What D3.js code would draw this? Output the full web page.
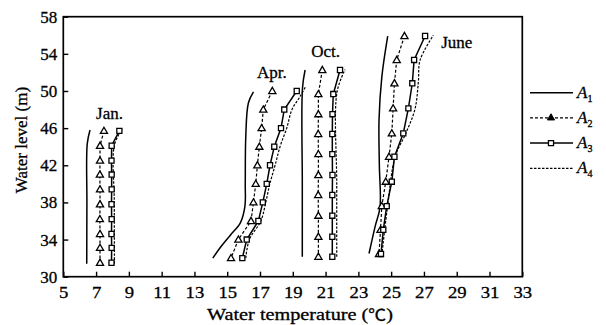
<!DOCTYPE html>
<html>
<head>
<meta charset="utf-8">
<script src="https://cdn.jsdelivr.net/npm/d3@7"></script>
<style>
  body { margin: 0; background: #fff; }
  svg { display: block; }
  svg text { stroke: #000; stroke-width: 0.3px; }
</style>
</head>
<body>
<svg id="chart" width="606" height="325"></svg>
<script>
const xTicks = [5, 7, 9, 11, 13, 15, 17, 19, 21, 23, 25, 27, 29, 31, 33]
const yTicks = [30, 34, 38, 42, 46, 50, 54, 58]

// months: measurement levels (m) and temperatures (°C) for the marked series
const janLevels = [45.7, 44.1, 42.5, 41.0, 39.4, 37.8, 36.2, 34.6, 33.1, 31.5]
const janA2 = [7.48, 7.24, 7.24, 7.23, 7.24, 7.24, 7.23, 7.24, 7.24, 7.24]
const janA3 = [8.42, 7.95, 7.94, 7.95, 7.95, 7.94, 7.95, 7.94, 7.95, 7.94]
const janA1 = [[6.43, 31.4], [6.44, 38.0], [6.46, 44.3], [6.63, 45.8]]
const janA4 = [[8.12, 31.4], [8.11, 38.0], [8.12, 44.2], [8.6, 45.9]]

const aprLevels = [50, 48, 46, 44, 42, 40, 38, 36, 34, 32]
const aprA2 = [17.75, 17.2, 17.1, 16.96, 16.84, 16.74, 16.6, 16.45, 15.68, 15.23]
const aprA3 = [19.24, 18.48, 18.28, 17.87, 17.61, 17.41, 17.17, 16.9, 16.19, 15.92]
const aprA1 = [[14.12, 32.0], [14.6, 33.2], [15.2, 34.5], [15.8, 35.8], [16.08, 37.6], [16.1, 40.0], [16.13, 45.0], [16.29, 48.7], [16.6, 49.9]]
const aprA4 = [[16.13, 32.0], [16.35, 34.0], [17.05, 36.0], [17.35, 38.0], [17.6, 40.0], [17.92, 42.0], [18.22, 44.0], [18.63, 46.0], [18.95, 48.0], [19.44, 49.4], [19.79, 50.5]]

const octLevels = [52.26, 49.67, 47.5, 45.37, 43.2, 40.95, 38.8, 36.57, 34.3, 32.15]
const octA2 = [20.8, 20.56, 20.56, 20.55, 20.56, 20.56, 20.55, 20.56, 20.56, 20.56]
const octA3 = [21.88, 21.47, 21.42, 21.41, 21.41, 21.42, 21.41, 21.41, 21.41, 21.41]
const octA1 = [[19.58, 32.15], [19.58, 40.0], [19.59, 50.3], [19.75, 52.26]]
const octA4 = [[21.68, 32.15], [21.68, 40.0], [21.7, 49.9], [22.19, 52.3]]

const junLevels = [55.92, 53.34, 50.83, 48.13, 45.44, 42.92, 40.23, 37.6, 35.05, 32.45]
const junA2 = [25.81, 25.34, 25.2, 25.12, 25.04, 24.87, 24.67, 24.43, 24.35, 24.26]
const junA3 = [27.07, 26.4, 26.29, 26.05, 25.74, 25.2, 25.04, 24.73, 24.52, 24.38]
const junA1 = [[23.65, 32.5], [24.02, 35.4], [24.32, 37.5], [24.28, 42.0], [24.26, 46.9], [24.43, 51.5], [24.79, 55.9]]
const junA4 = [[24.43, 32.3], [24.79, 37.7], [25.24, 42.9], [25.91, 45.5], [26.46, 48.1], [26.66, 51.0], [26.76, 53.3], [27.57, 56.0]]

const monthLabels = [
  { text: 'Jan.', t: 7.82, l: 47.0 },
  { text: 'Apr.', t: 17.73, l: 51.4 },
  { text: 'Oct.', t: 21.0, l: 53.7 },
  { text: 'June', t: 29.0, l: 54.6 }
]

const font = '"Liberation Serif", "Times New Roman", serif'
const svg = d3.select('#chart')

const x = d3.scaleLinear().domain([5, 33]).range([63.3, 522.3])
const y = d3.scaleLinear().domain([30, 58]).range([276.7, 16.7])

// frame
svg.append('rect')
  .attr('x', x(5)).attr('y', y(58))
  .attr('width', x(33) - x(5)).attr('height', y(30) - y(58))
  .attr('fill', 'none').attr('stroke', '#000').attr('stroke-width', 1.7)

// axes, ticks point inward
const xAxis = svg.append('g').attr('transform', `translate(0,${y(30)})`)
  .call(d3.axisBottom(x).tickValues(xTicks).tickSizeInner(-5).tickSizeOuter(0).tickPadding(9))
const yAxis = svg.append('g').attr('transform', `translate(${x(5)},0)`)
  .call(d3.axisLeft(y).tickValues(yTicks).tickSizeInner(-5).tickSizeOuter(0).tickPadding(6))
;[xAxis, yAxis].forEach(ax => {
  ax.select('.domain').remove()
  ax.selectAll('line').attr('stroke', '#000').attr('stroke-width', 1.4)
  ax.selectAll('text').attr('fill', '#000').attr('font-size', 17).attr('font-family', font)
})
xAxis.selectAll('text').attr('transform', 'scale(1.1,1)')

const xTitle = svg.append('text')
  .attr('x', 300).attr('y', 320).attr('text-anchor', 'middle')
  .attr('font-size', 17).attr('font-family', font).attr('fill', '#000')
  .attr('textLength', 186).attr('lengthAdjust', 'spacingAndGlyphs')
xTitle.append('tspan').text('Water temperature (')
xTitle.append('tspan').attr('font-family', '"Noto Sans CJK SC", sans-serif').attr('font-size', 15).text('℃')
xTitle.append('tspan').text(')')

svg.append('text')
  .attr('transform', 'translate(27,140) rotate(-90)').attr('text-anchor', 'middle')
  .attr('font-size', 17).attr('font-family', font).attr('fill', '#000')
  .text('Water level (m)')

const line = d3.line().x(d => x(d[0])).y(d => y(d[1])).curve(d3.curveCatmullRom.alpha(0.5))
const polyline = d3.line().x(d => x(d[0])).y(d => y(d[1]))

const triangle = d3.symbol(d3.symbolTriangle, 22)
const square = d3.symbol(d3.symbolSquare, 26)

const months = [
  { levels: janLevels, a1: janA1, a2: janA2, a3: janA3, a4: janA4 },
  { levels: aprLevels, a1: aprA1, a2: aprA2, a3: aprA3, a4: aprA4 },
  { levels: octLevels, a1: octA1, a2: octA2, a3: octA3, a4: octA4 },
  { levels: junLevels, a1: junA1, a2: junA2, a3: junA3, a4: junA4 }
]

const plot = svg.append('g')
months.forEach(m => {
  const a2pts = m.levels.map((l, i) => [m.a2[i], l])
  const a3pts = m.levels.map((l, i) => [m.a3[i], l])

  plot.append('path').attr('d', line(m.a1))
    .attr('fill', 'none').attr('stroke', '#000').attr('stroke-width', 1.5)
  plot.append('path').attr('d', line(m.a4))
    .attr('fill', 'none').attr('stroke', '#000').attr('stroke-width', 1.2)
    .attr('stroke-dasharray', '2.5,1.5')
  plot.append('path').attr('d', polyline(a2pts))
    .attr('fill', 'none').attr('stroke', '#000').attr('stroke-width', 1.2)
    .attr('stroke-dasharray', '3,2')
  plot.append('path').attr('d', polyline(a3pts))
    .attr('fill', 'none').attr('stroke', '#000').attr('stroke-width', 1.5)

  plot.selectAll(null).data(a2pts).join('path')
    .attr('transform', d => `translate(${x(d[0])},${y(d[1]) + 0.5})`)
    .attr('d', triangle)
    .attr('fill', '#fff').attr('stroke', '#000').attr('stroke-width', 1.3)
  plot.selectAll(null).data(a3pts).join('path')
    .attr('transform', d => `translate(${x(d[0])},${y(d[1])})`)
    .attr('d', square)
    .attr('fill', '#fff').attr('stroke', '#000').attr('stroke-width', 1.3)
})

svg.append('g').selectAll('text').data(monthLabels).join('text')
  .attr('x', d => x(d.t)).attr('y', d => y(d.l))
  .attr('text-anchor', 'middle')
  .attr('font-size', 17).attr('font-family', font).attr('fill', '#000')
  .text(d => d.text)

// legend
const legendItems = [
  { key: '1', dash: null, marker: null },
  { key: '2', dash: '3,2', marker: 'tri' },
  { key: '3', dash: null, marker: 'sq' },
  { key: '4', dash: '2.5,1.5', marker: null }
]
const legend = svg.append('g')
legendItems.forEach((d, i) => {
  const ly = 92.7 + i * 25.2
  legend.append('line')
    .attr('x1', 530).attr('x2', 573).attr('y1', ly).attr('y2', ly)
    .attr('stroke', '#000').attr('stroke-width', d.dash ? 1.2 : 1.5)
    .attr('stroke-dasharray', d.dash)
  if (d.marker === 'tri') {
    legend.append('path').attr('transform', `translate(551,${ly})`)
      .attr('d', triangle).attr('fill', '#000').attr('stroke', '#000').attr('stroke-width', 1)
  } else if (d.marker === 'sq') {
    legend.append('path').attr('transform', `translate(551,${ly})`)
      .attr('d', square).attr('fill', '#fff').attr('stroke', '#000').attr('stroke-width', 1.3)
  }
  const t = legend.append('text')
    .attr('x', 577).attr('y', ly + 5)
    .attr('font-size', 17).attr('font-family', font).attr('fill', '#000')
  t.append('tspan').attr('font-style', 'italic').text('A')
  t.append('tspan').attr('font-size', 10).attr('dy', 4).text(d.key)
})
</script>
</body>
</html>
